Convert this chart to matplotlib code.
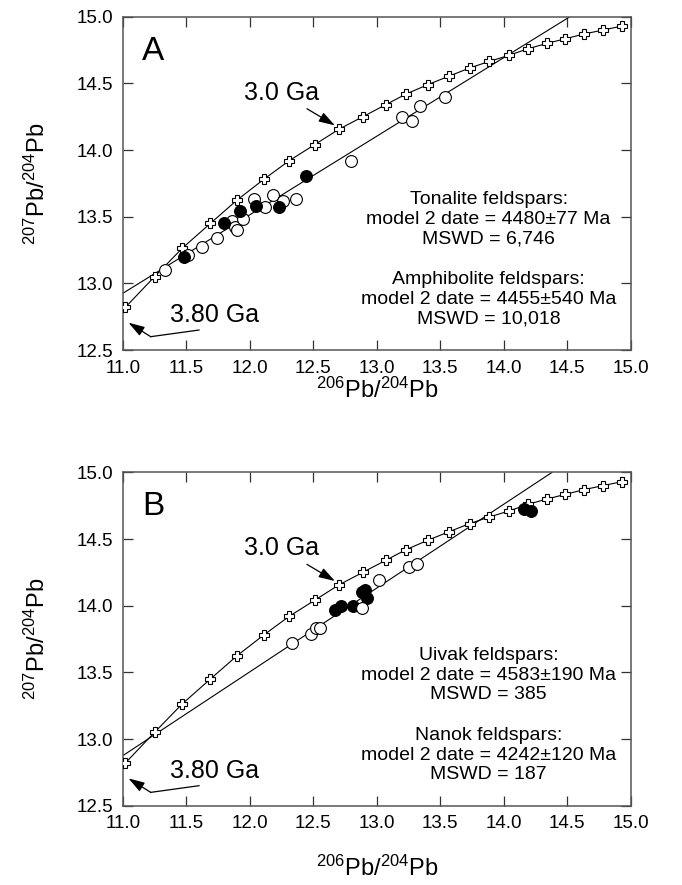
"""
Pb-Pb feldspar plots, panels A and B
"""
import matplotlib
matplotlib.use("Agg")
import matplotlib.pyplot as plt

plt.rcParams['font.family'] = ['Liberation Sans', 'DejaVu Sans']
plt.rcParams['mathtext.fontset'] = 'custom'
plt.rcParams['mathtext.rm'] = 'Liberation Sans'
plt.rcParams['mathtext.it'] = 'Liberation Sans'

# growth curve points (206/204, 207/204), 3.8 Ga -> 1.6 Ga
sk_x = [11.02, 11.25, 11.47, 11.69, 11.90, 12.11, 12.31, 12.51, 12.70, 12.89, 13.07, 13.23,
        13.40, 13.57, 13.73, 13.885, 14.04, 14.19, 14.34, 14.485, 14.63, 14.78, 14.93]
sk_y = [12.82, 13.05, 13.265, 13.45, 13.625, 13.78, 13.92, 14.04, 14.155, 14.25, 14.34, 14.42,
        14.49, 14.555, 14.615, 14.665, 14.71, 14.76, 14.80, 14.835, 14.87, 14.90, 14.93]

# panel A
a_open_x = [11.33, 11.51, 11.62, 11.74, 11.86, 11.88, 11.90, 11.95, 12.035, 12.12, 12.18,
            12.26, 12.36, 12.80, 13.195, 13.28, 13.34, 13.54]
a_open_y = [13.10, 13.21, 13.27, 13.34, 13.47, 13.42, 13.40, 13.485, 13.63, 13.57, 13.66,
            13.62, 13.63, 13.92, 14.25, 14.215, 14.33, 14.40]
a_fill_x = [11.48, 11.80, 11.92, 12.05, 12.23, 12.44]
a_fill_y = [13.20, 13.45, 13.54, 13.58, 13.57, 13.805]
a_line_x = [11.0, 14.52]
a_line_y = [12.925, 15.0]

# panel B
b_open_x = [12.335, 12.48, 12.52, 12.555, 12.88, 13.02, 13.25, 13.32]
b_open_y = [13.72, 13.79, 13.835, 13.83, 13.985, 14.19, 14.29, 14.315]
b_fill_x = [12.67, 12.72, 12.81, 12.885, 12.91, 12.92, 14.155, 14.215]
b_fill_y = [13.97, 14.0, 14.0, 14.10, 14.12, 14.06, 14.725, 14.71]
b_line_x = [11.0, 14.38]
b_line_y = [12.875, 15.0]

ticks_x = [11.0, 11.5, 12.0, 12.5, 13.0, 13.5, 14.0, 14.5, 15.0]
ticks_y = [12.5, 13.0, 13.5, 14.0, 14.5, 15.0]

text_a = ["Tonalite feldspars:\nmodel 2 date = 4480\u00b177 Ma\nMSWD = 6,746",
          "Amphibolite feldspars:\nmodel 2 date = 4455\u00b1540 Ma\nMSWD = 10,018"]
text_b = ["Uivak feldspars:\nmodel 2 date = 4583\u00b1190 Ma\nMSWD = 385",
          "Nanok feldspars:\nmodel 2 date = 4242\u00b1120 Ma\nMSWD = 187"]

ARROW = dict(arrowstyle='-|>,head_length=0.7,head_width=0.22', color='black', lw=0.9,
             mutation_scale=14, shrinkA=0, shrinkB=0)

fig = plt.figure(figsize=(6.82, 8.85), dpi=100)
ax_a = fig.add_axes([0.180, 0.6045, 0.745, 0.3766])
ax_b = fig.add_axes([0.180, 0.0896, 0.745, 0.3767])


def draw_panel(ax, letter, line_x, line_y, open_x, open_y, fill_x, fill_y, texts,
               open_on_top, xpad):
    ax.plot(line_x, line_y, color='black', lw=0.8, zorder=2)
    ax.plot(sk_x, sk_y, color='black', lw=0.8, marker='P', ms=6.5, mfc='white',
            mec='black', mew=0.8, zorder=3)
    z_open, z_fill = (5, 4) if open_on_top else (4, 5)
    ax.plot(open_x, open_y, ls='none', marker='o', ms=8.5, mfc='white', mec='black',
            mew=0.8, zorder=z_open)
    ax.plot(fill_x, fill_y, ls='none', marker='o', ms=8.5, mfc='black', mec='black',
            mew=0.8, zorder=z_fill)

    ax.set_xlim(11.0, 15.0)
    ax.set_ylim(12.5, 15.0)
    ax.set_xticks(ticks_x)
    ax.set_yticks(ticks_y)
    ax.set_xticklabels([f"{t:.1f}" for t in ticks_x])
    ax.set_yticklabels([f"{t:.1f}" for t in ticks_y])
    ax.tick_params(direction='in', length=7, width=0.9, top=True, right=True,
                   labeltop=False, labelright=False, labelsize=13.5, pad=7, color='#333333')
    for s in ax.spines.values():
        s.set_linewidth(1.1)
        s.set_color('#555555')

    ax.set_xlabel(r"$^{206}$Pb/$^{204}$Pb", fontsize=17, labelpad=xpad)
    ax.set_ylabel(r"$^{207}$Pb/$^{204}$Pb", fontsize=17, labelpad=19)

    ax.text(11.24, 14.74, letter, fontsize=24, ha='center', va='center')

    # 3.0 Ga label and arrow
    ax.text(12.25, 14.43, "3.0 Ga", fontsize=18, ha='center', va='center')
    ax.annotate("", xy=(12.67, 14.185), xytext=(12.45, 14.31), arrowprops=ARROW)

    # 3.80 Ga label and bent arrow
    ax.text(11.72, 12.76, "3.80 Ga", fontsize=18, ha='center', va='center')
    ax.plot([11.60, 11.22], [12.65, 12.60], color='black', lw=0.9)
    ax.annotate("", xy=(11.045, 12.705), xytext=(11.22, 12.60), arrowprops=ARROW)

    ax.text(13.88, 13.48, texts[0], fontsize=14, ha='center', va='center', linespacing=1.2)
    ax.text(13.88, 12.88, texts[1], fontsize=14, ha='center', va='center', linespacing=1.2)


draw_panel(ax_a, "A", a_line_x, a_line_y, a_open_x, a_open_y, a_fill_x, a_fill_y, text_a,
           False, 1)
draw_panel(ax_b, "B", b_line_x, b_line_y, b_open_x, b_open_y, b_fill_x, b_fill_y, text_b,
           True, 17)

fig.savefig("out.png", dpi=100)
